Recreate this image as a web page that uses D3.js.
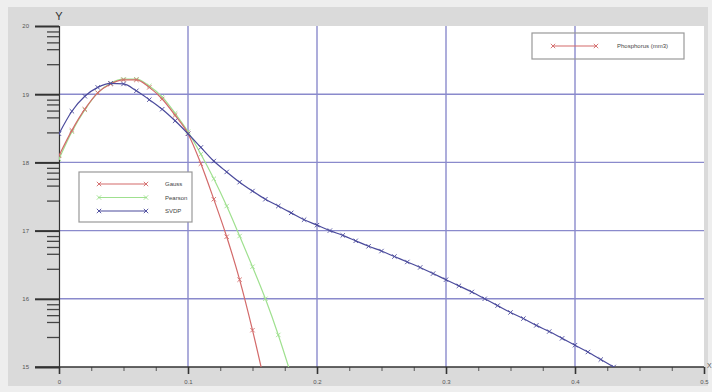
<!DOCTYPE html>
<html>
<head>
<meta charset="utf-8">
<script src="https://cdn.jsdelivr.net/npm/d3@7"></script>
<style>
  html, body { margin: 0; padding: 0; background: #ededed; }
  svg { display: block; font-family: "Liberation Sans", Arial, sans-serif; }
</style>
</head>
<body>
<svg id="chart" width="712" height="392"></svg>
<script>
// values (x step 0.01)
const xsBlue = d3.range(0, 44).map(i => i / 100);
const blueVals = [18.42, 18.75, 18.97, 19.10, 19.16, 19.15, 19.05, 18.92, 18.78, 18.61,
  18.42, 18.22, 18.02, 17.86, 17.71, 17.58, 17.46, 17.36, 17.26, 17.16,
  17.08, 17.00, 16.93, 16.85, 16.77, 16.70, 16.62, 16.54, 16.46, 16.37,
  16.28, 16.19, 16.10, 16.00, 15.90, 15.80, 15.71, 15.61, 15.52, 15.42,
  15.32, 15.22, 15.11, 15.00];
const redVals = [18.10, 18.47, 18.78, 19.02, 19.15, 19.21, 19.21, 19.10, 18.93, 18.69,
  18.42, 17.98, 17.46, 16.91, 16.28, 15.54, 14.72];
const greenVals = [18.05, 18.45, 18.77, 19.02, 19.16, 19.22, 19.22, 19.12, 18.96, 18.72,
  18.45, 18.12, 17.76, 17.36, 16.92, 16.47, 16.00, 15.47, 14.88];

const seriesNames = ["Gauss", "Pearson", "SVDP"];
const seriesColors = ["#d36a6a", "#9fe08f", "#4b4b9c"];
const extraLegend = "Phosphorus (mm3)";

const xTicks = [0, 0.1, 0.2, 0.3, 0.4, 0.5];
const xTickLabels = ["0", "0.1", "0.2", "0.3", "0.4", "0.5"];
const yTicks = [15, 16, 17, 18, 19, 20];
const minorFrac = [0.44, 0.66, 0.76, 0.85, 0.92];

const svg = d3.select("#chart");
const W = 712, H = 392;
const L = 59, R = 704, T = 26, B = 367;

// frame
svg.append("rect").attr("width", W).attr("height", H).attr("fill", "#eeeeee");
svg.append("rect").attr("x", 8).attr("y", 7).attr("width", 700).attr("height", 379).attr("fill", "#dadada");
svg.append("rect").attr("x", L).attr("y", T).attr("width", R - L).attr("height", B - T).attr("fill", "#ffffff");

const x = d3.scaleLinear().domain([0, 0.5]).range([L, R]);
const y = d3.scaleLinear().domain([15, 20]).range([B, T]);

svg.append("defs").append("clipPath").attr("id", "clip")
  .append("rect").attr("x", L).attr("y", T).attr("width", R - L).attr("height", B - T);

// grid
const grid = svg.append("g").attr("stroke", "#8a8acc").attr("stroke-width", 1.4);
grid.selectAll(".gx").data(xTicks.slice(1, -1)).join("line")
  .attr("x1", d => x(d)).attr("x2", d => x(d)).attr("y1", T).attr("y2", B);
grid.selectAll(".gy").data(yTicks.slice(1, -1)).join("line")
  .attr("x1", L).attr("x2", R).attr("y1", d => y(d)).attr("y2", d => y(d));

// y axis
const yMinor = [];
yTicks.slice(0, -1).forEach(m => minorFrac.forEach(f => yMinor.push(m + f)));
const yAxis = svg.append("g").attr("transform", `translate(${L},0)`)
  .call(d3.axisLeft(y).tickValues(yTicks).tickSize(24).tickPadding(6).tickFormat(d3.format("d")));
yAxis.select(".domain").attr("stroke", "#333").attr("stroke-width", 1.2);
yAxis.selectAll(".tick line").attr("stroke", "#333").attr("stroke-width", 2);
yAxis.selectAll("text").attr("font-size", 6).attr("fill", "#555");
svg.append("g").attr("transform", `translate(${L},0)`)
  .call(d3.axisLeft(y).tickValues(yMinor).tickSize(12).tickFormat(""))
  .call(g => g.select(".domain").remove())
  .selectAll(".tick line").attr("stroke", "#444").attr("stroke-width", 1.3);

// x axis
const xMinor = d3.range(0, 21).map(i => i * 0.025).filter(v => Math.abs(v * 10 - Math.round(v * 10)) > 1e-6);
const xAxis = svg.append("g").attr("transform", `translate(0,${B})`)
  .call(d3.axisBottom(x).tickValues(xTicks).tickSize(7).tickPadding(6).tickFormat((d, i) => xTickLabels[i]));
xAxis.select(".domain").remove();
xAxis.selectAll(".tick line").attr("stroke", "#333").attr("stroke-width", 1.6);
xAxis.selectAll("text").attr("font-size", 6).attr("fill", "#555");
svg.append("g").attr("transform", `translate(0,${B})`)
  .call(d3.axisBottom(x).tickValues(xMinor).tickSize(4).tickFormat(""))
  .call(g => g.select(".domain").remove())
  .selectAll(".tick line").attr("stroke", "#555").attr("stroke-width", 1);
svg.append("line").attr("x1", 35).attr("x2", R).attr("y1", B).attr("y2", B)
  .attr("stroke", "#333").attr("stroke-width", 1.4);

svg.append("text").attr("x", L).attr("y", 20).attr("text-anchor", "middle")
  .attr("font-size", 11).attr("fill", "#333").text("Y");
svg.append("text").attr("x", 707).attr("y", 368).attr("text-anchor", "start")
  .attr("font-size", 7).attr("fill", "#555").text("X");

// curves
const series = [
  { name: seriesNames[0], color: seriesColors[0], vals: redVals },
  { name: seriesNames[1], color: seriesColors[1], vals: greenVals },
  { name: seriesNames[2], color: seriesColors[2], vals: blueVals }
];
const line = d3.line().x(d => x(d[0])).y(d => y(d[1])).curve(d3.curveMonotoneX);
const plot = svg.append("g").attr("clip-path", "url(#clip)");

function marker(g, cx, cy, color) {
  const s = 2.2;
  g.append("path")
    .attr("d", `M${cx - s},${cy - s}L${cx + s},${cy + s}M${cx - s},${cy + s}L${cx + s},${cy - s}`)
    .attr("stroke", color).attr("stroke-width", 0.9).attr("fill", "none");
}

[series[1], series[0], series[2]].forEach(s => {
  const pts = s.vals.map((v, i) => [xsBlue[i], v]);
  plot.append("path").datum(pts).attr("d", line)
    .attr("fill", "none").attr("stroke", s.color).attr("stroke-width", 1.2);
  pts.forEach(p => marker(plot, x(p[0]), y(p[1]), s.color));
});

// legend, lower left
const lg = svg.append("g");
lg.append("rect").attr("x", 79).attr("y", 172).attr("width", 113).attr("height", 50)
  .attr("fill", "#ffffff").attr("stroke", "#999").attr("stroke-width", 1.2);
series.forEach((s, i) => {
  const ly = 184 + i * 13.5;
  lg.append("line").attr("x1", 98).attr("x2", 147).attr("y1", ly).attr("y2", ly)
    .attr("stroke", s.color).attr("stroke-width", 1.1);
  marker(lg, 99, ly, s.color);
  marker(lg, 146, ly, s.color);
  lg.append("text").attr("x", 165).attr("y", ly + 2).attr("font-size", 6).attr("fill", "#444").text(s.name);
});

// legend, top right
const lg2 = svg.append("g");
lg2.append("rect").attr("x", 532).attr("y", 33).attr("width", 152).attr("height", 26)
  .attr("fill", "none").attr("stroke", "#999").attr("stroke-width", 1.2);
lg2.append("line").attr("x1", 552).attr("x2", 597).attr("y1", 46).attr("y2", 46)
  .attr("stroke", seriesColors[0]).attr("stroke-width", 1.1);
marker(lg2, 553, 46, seriesColors[0]);
marker(lg2, 596, 46, seriesColors[0]);
lg2.append("text").attr("x", 617).attr("y", 48).attr("font-size", 6).attr("fill", "#444").text(extraLegend);
</script>
</body>
</html>
